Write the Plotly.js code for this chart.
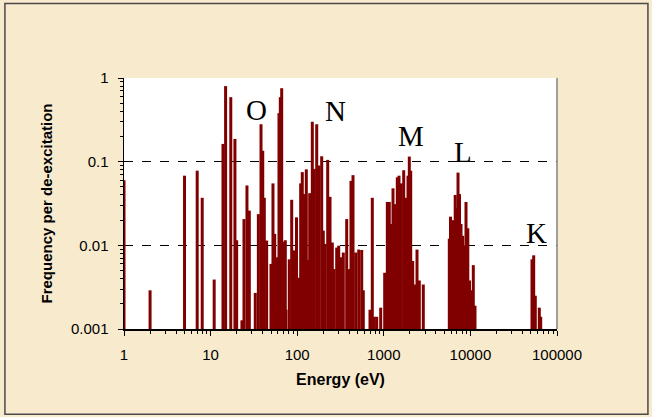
<!DOCTYPE html>
<html><head><meta charset="utf-8">
<script src="https://cdn.plot.ly/plotly-3.0.1.min.js"></script>
<style>html,body{margin:0;padding:0;background:#f8eacd;}</style>
</head><body>
<div id="chart" style="width:652px;height:417px;"></div>
<script>
// Energies (eV) of de-excitation lines
const energies = [1, 2, 5, 7, 8, 11, 13.9, 14.9, 17.1, 19.1, 20.0, 23.0, 24.3, 26.3, 28.0, 32.8, 35.6, 38.2, 40.0, 41.7, 44.4,
  49.8, 52.5, 55.0, 58.0, 61.6, 63.8, 66.2, 69.1, 72.9, 74.3, 81.0, 86.4, 91.8, 98.2, 103.8,
  109.7, 114.5, 120.8, 127.4, 133.3, 139.4, 149.4, 157.6, 168.0, 178.5, 191.8, 200.1, 209.4, 225, 239.3,
  254.3, 266, 285.8, 301.5, 320.5, 340.7, 372.8, 393.2, 418, 441, 473.8, 513.2, 555.7, 580,
  692.8, 736.6, 776.8, 827.9, 920.9, 1024, 1098, 1157, 1211, 1277, 1347, 1432, 1498, 1593, 1698, 1790,
  1853, 1903, 1970, 2045, 2157, 2274, 2418, 2570, 2858,
  5707, 5892, 6246, 6676, 6948, 7193, 7485, 7790, 8149, 8481, 8897, 9333, 9763, 10241, 10803, 11300,
  51440, 53810, 56150, 62460, 64830];
// Frequency per de-excitation
const frequencies = [0.06, 0.0029, 0.068, 0.078, 0.037, 0.0039, 0.163, 0.80, 0.59, 0.187, 0.0115, 0.00127, 0.0206, 0.052, 0.026, 0.0027, 0.0236, 0.28, 0.135, 0.037, 0.0114,
  0.006, 0.055, 0.0137, 0.0072, 0.38, 0.59, 0.755, 0.011, 0.0115, 0.0017, 0.0068, 0.035, 0.0087, 0.0216, 0.0041,
  0.055, 0.075, 0.041, 0.081, 0.0067, 0.042, 0.30, 0.082, 0.28, 0.09, 0.116, 0.015, 0.0104, 0.105, 0.038,
  0.0108, 0.0052, 0.0094, 0.0099, 0.0072, 0.0082, 0.0206, 0.0052, 0.059, 0.069, 0.0082, 0.0089, 0.0088, 0.0029,
  0.0017, 0.037, 0.0014, 0.0014, 0.0018, 0.0047, 0.033, 0.033, 0.018, 0.048, 0.031, 0.065, 0.068, 0.055, 0.079, 0.037,
  0.0045, 0.068, 0.115, 0.078, 0.0065, 0.0034, 0.0089, 0.0038, 0.0034,
  0.012, 0.022, 0.020, 0.040, 0.028, 0.074, 0.041, 0.018, 0.013, 0.010, 0.033, 0.016, 0.0038, 0.0029, 0.0058, 0.0019,
  0.0068, 0.0076, 0.0025, 0.0018, 0.0014];
const shellLabels = ["O", "N", "M", "L", "K"];
const shellLabelE = [34.3, 279, 2045, 8280, 58440];
const shellLabelF = [0.41, 0.40, 0.20, 0.131, 0.0142];
const yTickVals = [0.001, 0.01, 0.1, 1];
const yTickText = ["0.001", "0.01", "0.1", "1"];
const xTickVals = [1, 10, 100, 1000, 10000, 100000];
const xTickText = ["1", "10", "100", "1000", "10000", "100000"];
const yMin = 0.001;

// Build vertical line segments from the data
const xs = [], ys = [];
energies.forEach((e, i) => { xs.push(e, e, null); ys.push(yMin, frequencies[i], null); });

const trace = {
  type: 'scatter', mode: 'lines', x: xs, y: ys,
  line: {color: '#800000', width: 3}, hoverinfo: 'skip', showlegend: false, cliponaxis: true
};

const ann = shellLabels.map((t, i) => ({
  x: Math.log10(shellLabelE[i]), y: Math.log10(shellLabelF[i]), xref: 'x', yref: 'y',
  text: t, showarrow: false, font: {family: 'Liberation Serif, Times New Roman, serif', size: 29, color: '#000'}
}));

const layout = {
  width: 652, height: 417,
  paper_bgcolor: '#f8eacd', plot_bgcolor: '#ffffff',
  margin: {l: 124, r: 95, t: 78, b: 88},
  showlegend: false,
  xaxis: {
    type: 'log', range: [0, 5], tickvals: xTickVals, ticktext: xTickText,
    ticks: 'outside', ticklen: 5, tickcolor: '#000', showline: true, linecolor: '#000', linewidth: 1.5,
    showgrid: false, zeroline: false, ticklabelstandoff: 6,
    minor: {ticks: 'outside', ticklen: 3, tickcolor: '#000', dtick: 'D1', showgrid: false},
    tickfont: {family: 'Liberation Sans, Arial, sans-serif', size: 15, color: '#000'},
    title: {text: '<b>Energy (eV)</b>', font: {family: 'Liberation Sans, Arial, sans-serif', size: 16, color: '#000'}, standoff: 12}
  },
  yaxis: {
    type: 'log', range: [-3, 0], tickvals: yTickVals, ticktext: yTickText,
    ticks: 'outside', ticklen: 5, tickcolor: '#000', showline: true, linecolor: '#000', linewidth: 1.5,
    showgrid: true, gridcolor: '#000', griddash: 'dash', gridwidth: 1, zeroline: false, ticklabelstandoff: 6,
    minor: {ticks: 'outside', ticklen: 3, tickcolor: '#000', dtick: 'D1', showgrid: false},
    tickfont: {family: 'Liberation Sans, Arial, sans-serif', size: 15, color: '#000'},
    title: {text: '<b>Frequency per de-excitation</b>', font: {family: 'Liberation Sans, Arial, sans-serif', size: 15, color: '#000'}, standoff: 14}
  },
  annotations: ann,
  shapes: [
    {type: 'line', xref: 'paper', yref: 'paper', x0: 1, x1: 1, y0: 0, y1: 1, line: {color: '#808080', width: 1.5}},
    {type: 'rect', xref: 'paper', yref: 'paper', x0: -0.275, x1: 1.21, y0: -0.34, y1: 1.297, line: {color: '#4a4a4a', width: 1.5}, layer: 'below'}
  ]
};

Plotly.newPlot('chart', [trace], layout, {staticPlot: true, displayModeBar: false});
</script>
</body></html>
